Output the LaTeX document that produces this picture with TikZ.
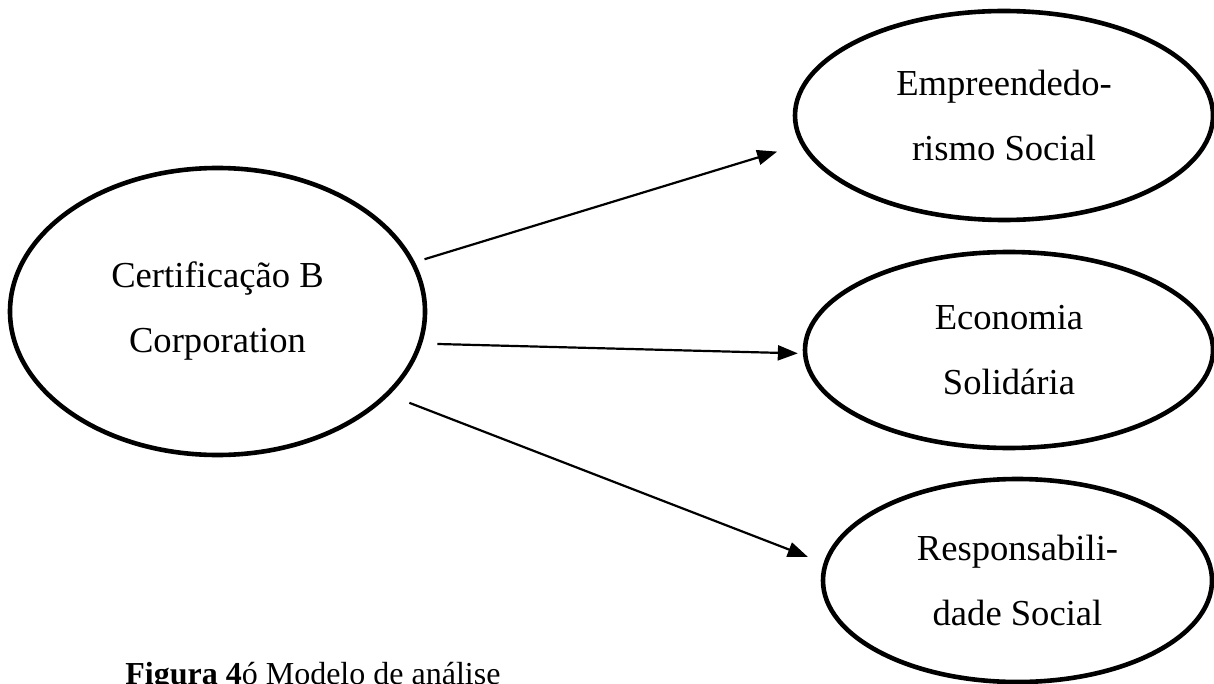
\documentclass[tikz,border=0pt]{standalone}
\usepackage{fontspec}
\setmainfont{Liberation Serif}
\usetikzlibrary{shapes,arrows.meta,positioning,calc}

\tikzset{
    conceito/.style={draw, ellipse, line width=2.3pt, inner sep=0pt, outer sep=0pt, align=center,
        font=\fontsize{18.3}{32.5}\selectfont},
    seta/.style={line width=1.1pt, -{Triangle[length=10pt,width=7.5pt]}}
}

\begin{document}
\begin{tikzpicture}[x=0.5pt, y=-0.5pt]
\useasboundingbox (0,0) rectangle (1214,684);

% modelo de analise
\node[conceito, minimum width=207.5pt, minimum height=143.5pt] (cert) at (217.5,311.5) {Certificação B\\Corporation};
\node[conceito, minimum width=209pt, minimum height=104.5pt] (emp) at (1004,115.5) {Empreendedo-\\rismo Social};
\node[conceito, minimum width=204pt, minimum height=98pt] (eco) at (1009,350) {Economia\\Solidária};
\node[conceito, minimum width=194.5pt, minimum height=101.5pt] (resp) at (1017.5,580.5) {Responsabili-\\dade Social};

\draw[seta, shorten <=6.2pt, shorten >=13.4pt] (cert.14.2) -- (emp.188.5);
\draw[seta, shorten <=8.85pt, shorten >=3.65pt] (cert.351.5) -- (eco.181.5);
\draw[seta, shorten <=11.95pt, shorten >=9.6pt] (cert.334) -- (resp.175.2);

% legenda
\node[anchor=base west, inner sep=0pt, font=\fontsize{16}{19}\selectfont] (legenda) at (125,684) {\textbf{Figura 4}ó Modelo de análise};
\end{tikzpicture}
\end{document}
